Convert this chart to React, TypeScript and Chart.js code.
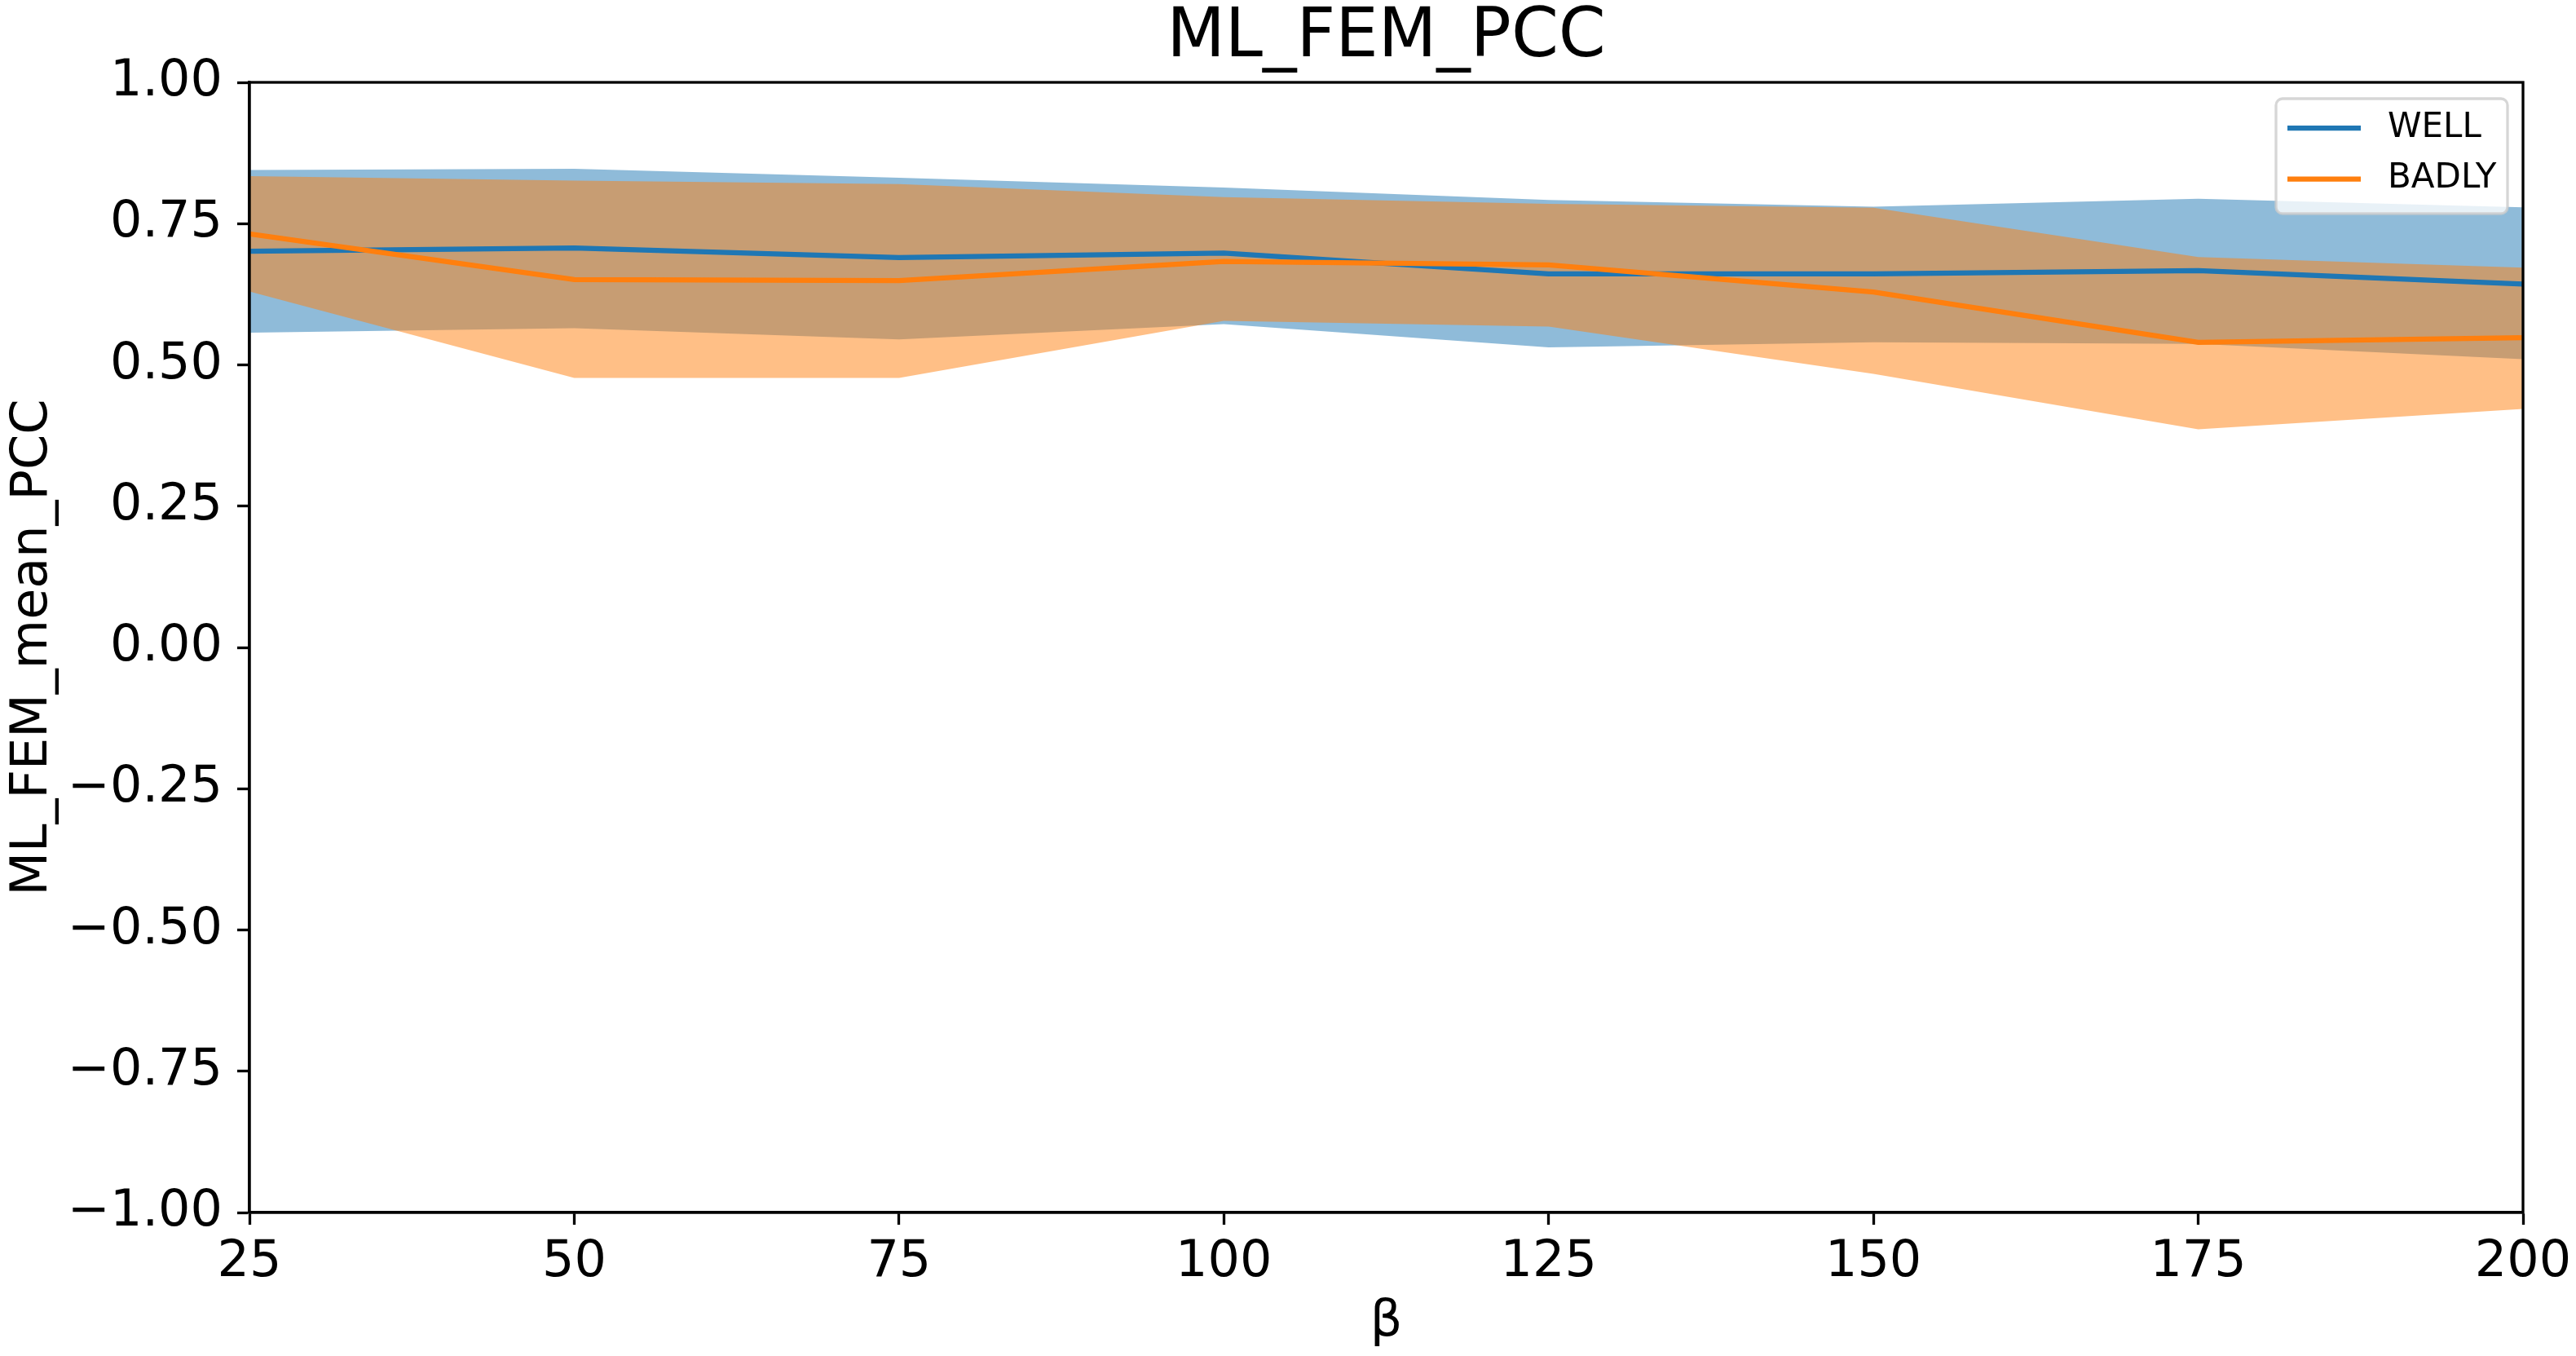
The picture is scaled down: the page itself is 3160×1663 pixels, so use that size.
import React, { useEffect, useRef } from 'react';
import { Chart, registerables } from 'chart.js';

Chart.register(...registerables);

// --- values ---
const betaValues = [25, 50, 75, 100, 125, 150, 175, 200];
const wellMean = [0.701, 0.707, 0.690, 0.698, 0.661, 0.661, 0.667, 0.643];
const wellUpper = [0.845, 0.847, 0.831, 0.814, 0.792, 0.780, 0.794, 0.779];
const wellLower = [0.557, 0.565, 0.545, 0.572, 0.531, 0.540, 0.537, 0.510];
const badlyMean = [0.732, 0.651, 0.649, 0.683, 0.677, 0.629, 0.540, 0.548];
const badlyUpper = [0.834, 0.826, 0.820, 0.797, 0.785, 0.778, 0.691, 0.672];
const badlyLower = [0.630, 0.477, 0.477, 0.578, 0.568, 0.484, 0.386, 0.422];
const seriesNames = ['WELL', 'BADLY'];

const BLUE = '#1f77b4';
const ORANGE = '#ff7f0e';
const BLUE_FILL = 'rgba(31,119,180,0.5)';
const ORANGE_FILL = 'rgba(255,127,14,0.5)';
const FONT = 'DejaVu Sans';

const toPoints = (ys: number[]) => betaValues.map((x, i) => ({ x, y: ys[i] }));

const fmtTick = (v: number) => (v < -1e-9 ? '\u2212' : '') + Math.abs(v).toFixed(2);

// top/right spines like matplotlib's full box
const framePlugin = {
  id: 'frame',
  afterDatasetsDraw(chart: any) {
    const { ctx, chartArea } = chart;
    ctx.save();
    ctx.strokeStyle = '#000';
    ctx.lineWidth = 3.3;
    ctx.strokeRect(chartArea.left, chartArea.top, chartArea.right - chartArea.left, chartArea.bottom - chartArea.top);
    ctx.restore();
  },
};

// legend in the upper right corner of the axes
const cornerLegend = {
  id: 'cornerLegend',
  afterDraw(chart: any) {
    const { ctx, chartArea } = chart;
    const w = 284;
    const h = 141;
    const right = chartArea.right - 19;
    const top = chartArea.top + 20;
    const left = right - w;
    const colors = [BLUE, ORANGE];
    ctx.save();
    ctx.beginPath();
    ctx.roundRect(left, top, w, h, 8);
    ctx.fillStyle = 'rgba(255,255,255,0.8)';
    ctx.fill();
    ctx.strokeStyle = 'rgba(204,204,204,0.8)';
    ctx.lineWidth = 3.3;
    ctx.stroke();
    ctx.font = `42px "${FONT}"`;
    ctx.textBaseline = 'middle';
    ctx.textAlign = 'left';
    seriesNames.forEach((name, i) => {
      const y = top + 36 + i * 62.5;
      ctx.beginPath();
      ctx.moveTo(left + 14, y);
      ctx.lineTo(left + 104, y);
      ctx.strokeStyle = colors[i];
      ctx.lineWidth = 6.25;
      ctx.stroke();
      ctx.fillStyle = '#000';
      ctx.fillText(name, left + 137, y);
    });
    ctx.restore();
  },
};

export default function App() {
  const canvasRef = useRef<HTMLCanvasElement | null>(null);

  useEffect(() => {
    document.body.style.margin = '0';
    document.body.style.overflow = 'hidden';
    if (!canvasRef.current) return;

    const band = (data: number[], fill: any, color: string) => ({
      data: toPoints(data),
      borderWidth: 0,
      borderColor: 'rgba(0,0,0,0)',
      backgroundColor: color,
      pointRadius: 0,
      fill,
    });
    const meanLine = (label: string, data: number[], color: string) => ({
      label,
      data: toPoints(data),
      borderColor: color,
      backgroundColor: color,
      borderWidth: 6.25,
      pointRadius: 0,
      fill: false,
      tension: 0,
    });

    // first dataset is drawn on top: orange over blue, as in the reference
    const chart = new Chart(canvasRef.current, {
      type: 'line',
      data: {
        datasets: [
          meanLine(seriesNames[1], badlyMean, ORANGE),
          band(badlyUpper, '+1', ORANGE_FILL),
          band(badlyLower, false, ORANGE_FILL),
          meanLine(seriesNames[0], wellMean, BLUE),
          band(wellUpper, '+1', BLUE_FILL),
          band(wellLower, false, BLUE_FILL),
        ] as any,
      },
      options: {
        animation: false,
        responsive: false,
        devicePixelRatio: 1,
        events: [],
        layout: { padding: { left: 0, right: 65, top: 0, bottom: 0 } },
        plugins: {
          // all bands first, lines on top (matplotlib zorder)
          filler: { drawTime: 'beforeDatasetsDraw' },
          legend: { display: false },
          tooltip: { enabled: false },
          title: {
            display: true,
            text: 'ML_FEM_PCC',
            fullSize: false,
            color: '#000',
            font: { family: FONT, size: 83, weight: 'normal', lineHeight: 1 },
            padding: { top: 6, bottom: 12 },
          },
        },
        scales: {
          x: {
            type: 'linear',
            min: 25,
            max: 200,
            afterFit: (scale: any) => {
              scale.height = 176;
              scale.paddingLeft = 0;
              scale.paddingRight = 0;
            },
            ticks: {
              stepSize: 25,
              color: '#000',
              padding: 10,
              maxRotation: 0,
              autoSkip: false,
              font: { family: FONT, size: 62 },
            },
            grid: { drawOnChartArea: false, drawTicks: true, tickLength: 15, tickWidth: 3.3, tickColor: '#000' },
            border: { display: true, color: '#000', width: 3.3 },
            title: {
              display: true,
              text: 'β',
              color: '#000',
              font: { family: FONT, size: 62, lineHeight: 1 },
              padding: { top: 0, bottom: 10 },
            },
          },
          y: {
            type: 'linear',
            min: -1,
            max: 1,
            afterFit: (scale: any) => {
              scale.width = 306;
              scale.paddingTop = 0;
              scale.paddingBottom = 0;
            },
            ticks: {
              stepSize: 0.25,
              color: '#000',
              padding: 18,
              autoSkip: false,
              font: { family: FONT, size: 62 },
              callback: (v: any) => fmtTick(Number(v)),
            },
            grid: { drawOnChartArea: false, drawTicks: true, tickLength: 15, tickWidth: 3.3, tickColor: '#000' },
            border: { display: true, color: '#000', width: 3.3 },
            title: {
              display: true,
              text: 'ML_FEM_mean_PCC',
              color: '#000',
              font: { family: FONT, size: 62, lineHeight: 1 },
              padding: { top: 10, bottom: 0 },
            },
          },
        },
      } as any,
      plugins: [framePlugin, cornerLegend],
    });

    return () => chart.destroy();
  }, []);

  return (
    <div style={{ width: 3160, height: 1663, background: '#fff' }}>
      <canvas ref={canvasRef} width={3160} height={1663} style={{ display: 'block' }} />
    </div>
  );
}
